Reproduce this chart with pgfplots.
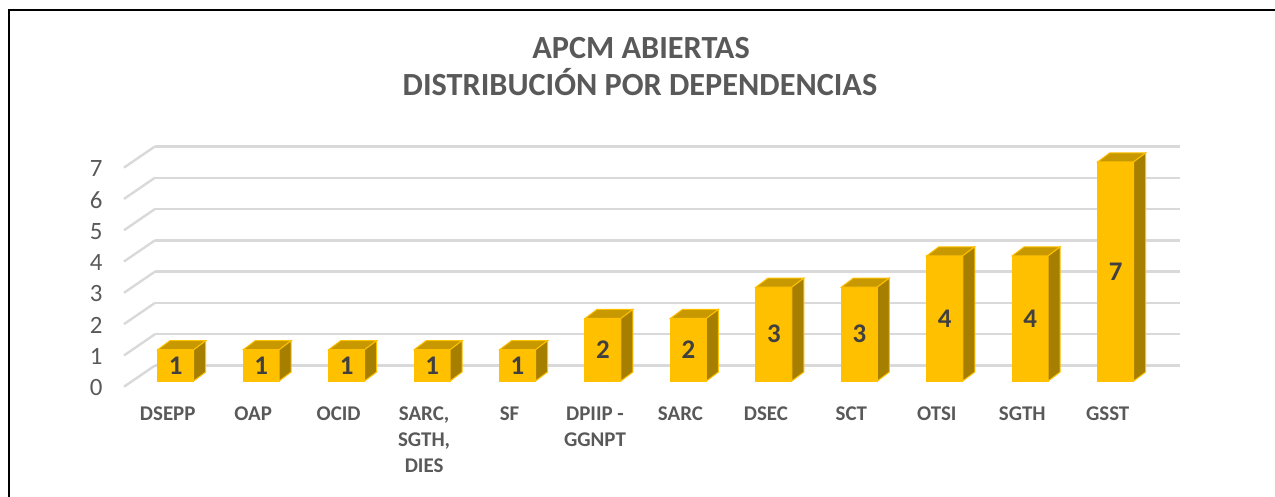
\documentclass[border=0pt]{standalone}
\usepackage{fontspec}
\setmainfont{Carlito}
\usepackage{pgfplots}
\pgfplotsset{compat=1.18}
\usepackage{pgfplotstable}
\definecolor{gold}{HTML}{FFC000}
\definecolor{topc}{HTML}{C79800}
\definecolor{sidec}{HTML}{A67F00}
\definecolor{gridc}{HTML}{D9D9D9}
\definecolor{txtgray}{HTML}{595959}
\definecolor{lblgray}{HTML}{404040}

\pgfplotstableread{
i v
0 1
1 1
2 1
3 1
4 1
5 2
6 2
7 3
8 3
9 4
10 4
11 7
}\data

\begin{document}
\begin{tikzpicture}
\begin{axis}[
  at={(66.5bp,-190.5bp)}, anchor=south west,
  x=42.725bp, y=15.65bp,
  xmin=-0.5, xmax=11.5, ymin=0, ymax=7.5,
  enlargelimits=false, clip=false,
  axis line style={draw=none},
  major tick style={draw=none}, major tick length=0pt,
  xtick={0,...,11},
  xticklabels={DSEPP,OAP,OCID,{SARC,\\SGTH,\\DIES},SF,{DPIIP -\\GGNPT},SARC,DSEC,SCT,OTSI,SGTH,GSST},
  xticklabel style={font=\bfseries\fontsize{10.5}{13}\selectfont, text=txtgray, align=center, anchor=north, inner sep=0pt, xshift=-4bp, yshift=-12.85bp},
  ytick={0,...,7},
  yticklabel style={font=\fontsize{12.5}{15}\selectfont, text=txtgray, anchor=east, inner sep=0pt, xshift=-15bp, yshift=-3.4bp},
  /pgf/number format/assume math mode=true,
  ymajorgrids, major grid style={draw=gridc, line width=1.2bp, xshift=11bp, yshift=7.75bp},
]
\pgfplotsinvokeforeach{0,...,7}{
  \draw[gridc, line width=1.2bp] ([shift={(-4.5bp,-2.85bp)}]axis cs:-0.5,#1) -- ([shift={(11bp,7.75bp)}]axis cs:-0.5,#1);
}
\addplot[ybar, bar width=18bp, bar shift=0pt, fill=gold, draw=gold, line width=0.5bp] table[x=i,y=v]{\data};
\addplot[scatter, only marks, mark=*, mark size=0pt, mark options={draw=none,fill=none},
  visualization depends on={rawy \as \val},
  scatter/@pre marker code/.code={
    \filldraw[fill=topc, draw=gold, line width=0.5bp] (-9bp,0pt) -- (9bp,0pt) -- (15bp,4.5bp) -- (-3bp,4.5bp) -- cycle;
    \filldraw[fill=sidec, draw=gold, line width=0.5bp] (9bp,0pt) -- (15bp,4.5bp) -- (15bp,{4.5bp-\val*15.65bp}) -- (9bp,{-\val*15.65bp}) -- cycle;
    \node[font=\bfseries\fontsize{13.5}{16}\selectfont, text=lblgray, inner sep=0pt] at (0pt,{-\val*7.825bp}) {\pgfmathprintnumber{\val}};
  },
  scatter/@post marker code/.code={}
] table[x=i,y=v]{\data};
\end{axis}
\node[anchor=base, font=\bfseries\fontsize{16.2}{19}\selectfont, text=txtgray] at (320.5bp,-29.15bp) {APCM ABIERTAS};
\node[anchor=base, font=\bfseries\fontsize{16.2}{19}\selectfont, text=txtgray] at (320bp,-47.5bp) {DISTRIBUCIÓN POR DEPENDENCIAS};
\draw[black, line width=1bp] (4.25bp,-248.5bp) -- (4.25bp,-5bp) -- (637.5bp,-5bp);
\pgfresetboundingbox
\path[use as bounding box] (0,0) rectangle (637.5bp,-248.5bp);
\end{tikzpicture}
\end{document}
